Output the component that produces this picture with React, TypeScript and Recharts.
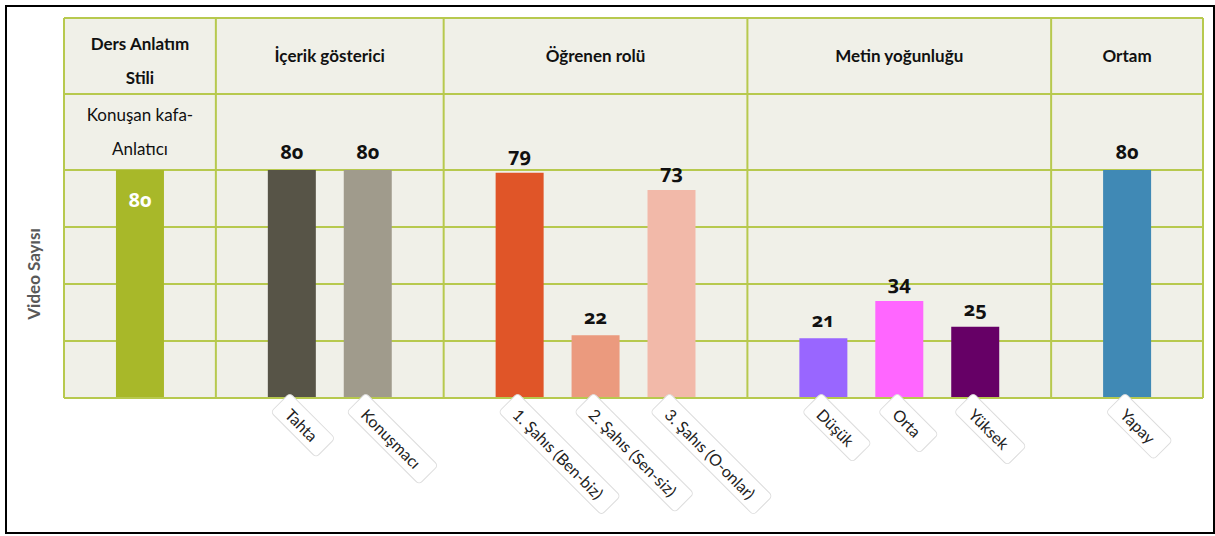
import React from "react"
import { BarChart, Bar, Cell, XAxis, YAxis, CartesianGrid, ReferenceLine, ReferenceArea, Label, LabelList } from "recharts"

const groups = ["Ders Anlatım Stili", "İçerik gösterici", "Öğrenen rolü", "Metin yoğunluğu", "Ortam"]
const categories = [
  "Konuşan kafa-Anlatıcı",
  "Tahta",
  "Konuşmacı",
  "1. Şahıs (Ben-biz)",
  "2. Şahıs (Sen-siz)",
  "3. Şahıs (O-onlar)",
  "Düşük",
  "Orta",
  "Yüksek",
  "Yapay",
]
const categoryGroup = [0, 1, 1, 2, 2, 2, 3, 3, 3, 4]
const values = [80, 80, 80, 79, 22, 73, 21, 34, 25, 80]
const yTicks = [0, 20, 40, 60, 80]
const yLabel = "Video Sayısı"

const colors = ["#a8b829", "#575447", "#a09b8c", "#e05528", "#eb9a7e", "#f2b9a9", "#9966ff", "#ff66ff", "#660066", "#4089b5"]
const FONT = "Lato, 'Open Sans', sans-serif"
const NUM_FONT = "'Open Sans', 'Noto Sans', Lato, sans-serif"
const LINE = "#b7c94e"
const SLOT_PX = 76

// header rows above the bars, each one third of the top value
const topValue = 80
const headerRow = topValue / 3
const headerMid = topValue + headerRow
const headerTop = topValue + 2 * headerRow

// slot layout: each group takes n + 1 slots, bars sit on the inner slot edges
const groupStart: number[] = []
const xPos: number[] = []
let slot = 0
groups.forEach((_, g) => {
  groupStart.push(slot)
  const n = categoryGroup.filter((c) => c === g).length
  for (let k = 1; k <= n; k++) xPos.push(slot + k)
  slot += n + 1
})
const boundaries = [...groupStart, slot]

const data = categories.map((name, i) => ({ name, x: xPos[i], value: values[i] }))

let ctx: CanvasRenderingContext2D | null = null
function measure(text: string, font: string) {
  if (!ctx) ctx = document.createElement("canvas").getContext("2d")
  if (!ctx) return text.length * 8
  ctx.font = font
  return ctx.measureText(text).width
}

function wrap(text: string, font: string, maxWidth: number) {
  const tokens = text.match(/[^\s-]+[\s-]?/g) || [text]
  const lines: string[] = []
  let cur = ""
  tokens.forEach((t) => {
    const next = cur + t
    if (cur && measure(next.trim(), font) > maxWidth) {
      lines.push(cur.trim())
      cur = t
    } else cur = next
  })
  if (cur) lines.push(cur.trim())
  return lines
}

function BoxTick(props: any) {
  const { x, y, payload } = props
  const i = xPos.indexOf(payload.value)
  if (i < 0 || categoryGroup[i] === 0) return null
  const name = categories[i]
  const w = measure(name, `16px ${FONT}`) + 26
  return (
    <g transform={`translate(${x - 2},${y - 5}) rotate(45)`}>
      <rect x={0} y={0} width={w} height={27} rx={4} fill="#fff" stroke="#dcdcdc" />
      <text x={12} y={14} dominantBaseline="central" fontSize={16} fill="#222" fontFamily={FONT}>
        {name}
      </text>
    </g>
  )
}

function ValueLabel(props: any) {
  const { x, y, width, value, index } = props
  const inside = categoryGroup[index] === 0
  return (
    <text
      x={x + width / 2}
      y={inside ? y + 37 : y - 11}
      textAnchor="middle"
      fontSize={20}
      fontWeight={700}
      fontFamily={NUM_FONT}
      fill={inside ? "#fff" : "#111"}
      style={{ fontVariantNumeric: "oldstyle-nums", fontFeatureSettings: "'onum' 1" }}
    >
      {value}
    </text>
  )
}

function cellLabels(lines: string[], bold: boolean, shift = 0) {
  return lines.map((l, k) => (
    <Label
      key={k}
      value={l}
      position="center"
      dy={(k - (lines.length - 1) / 2) * 34 + shift}
      fontSize={17}
      fontWeight={bold ? 700 : 400}
      fill="#111"
      fontFamily={FONT}
    />
  ))
}

const emptyTick = () => <g />

export default function App() {
  return (
    <div style={{ position: "absolute", left: 0, top: 0, width: 1215, height: 536, background: "#fff" }}>
      <div
        style={{
          position: "absolute",
          left: 5,
          top: 5,
          width: 1210,
          height: 529,
          border: "2px solid #000",
          boxSizing: "border-box",
        }}
      />
      <BarChart
        width={1215}
        height={536}
        data={data}
        margin={{ top: 18, right: 12, left: 4, bottom: 8 }}
        style={{ position: "absolute", left: 0, top: 0, fontFamily: FONT }}
      >
        <CartesianGrid vertical={false} fill="#f0f0e8" stroke={LINE} strokeWidth={2} />
        <XAxis
          dataKey="x"
          type="number"
          domain={[0, slot]}
          ticks={xPos}
          interval={0}
          height={130}
          tickLine={false}
          tickSize={0}
          tickMargin={0}
          axisLine={{ stroke: LINE, strokeWidth: 2 }}
          tick={<BoxTick />}
        />
        <YAxis
          type="number"
          domain={[0, headerTop]}
          ticks={[...yTicks, headerMid, headerTop]}
          interval={0}
          width={60}
          tick={emptyTick}
          tickLine={false}
          axisLine={false}
        >
          <Label value={yLabel} angle={-90} position="center" dy={66} fontSize={17} fontWeight={700} fill="#595959" fontFamily={FONT} />
        </YAxis>
        {groups.map((g, gi) => {
          const lines = wrap(g, `bold 17px ${FONT}`, (boundaries[gi + 1] - boundaries[gi]) * SLOT_PX - 30)
          return (
            <ReferenceArea
              key={g}
              x1={boundaries[gi]}
              x2={boundaries[gi + 1]}
              y1={headerMid}
              y2={headerTop}
              fill="none"
              stroke="none"
            >
              {cellLabels(lines, true, lines.length > 1 ? 5 : 0)}
            </ReferenceArea>
          )
        })}
        {categories.map((c, i) =>
          categoryGroup[i] === 0 ? (
            <ReferenceArea key={c} x1={boundaries[0]} x2={boundaries[1]} y1={topValue} y2={headerMid} fill="none" stroke="none">
              {cellLabels(wrap(c, `17px ${FONT}`, 2 * SLOT_PX - 30), false)}
            </ReferenceArea>
          ) : null
        )}
        {boundaries.map((b) => (
          <ReferenceLine key={b} x={b} stroke={LINE} strokeWidth={2} />
        ))}
        <Bar dataKey="value" barSize={48} isAnimationActive={false}>
          {data.map((d, i) => (
            <Cell key={d.name} fill={colors[i]} />
          ))}
          <LabelList dataKey="value" content={<ValueLabel />} />
        </Bar>
      </BarChart>
    </div>
  )
}
